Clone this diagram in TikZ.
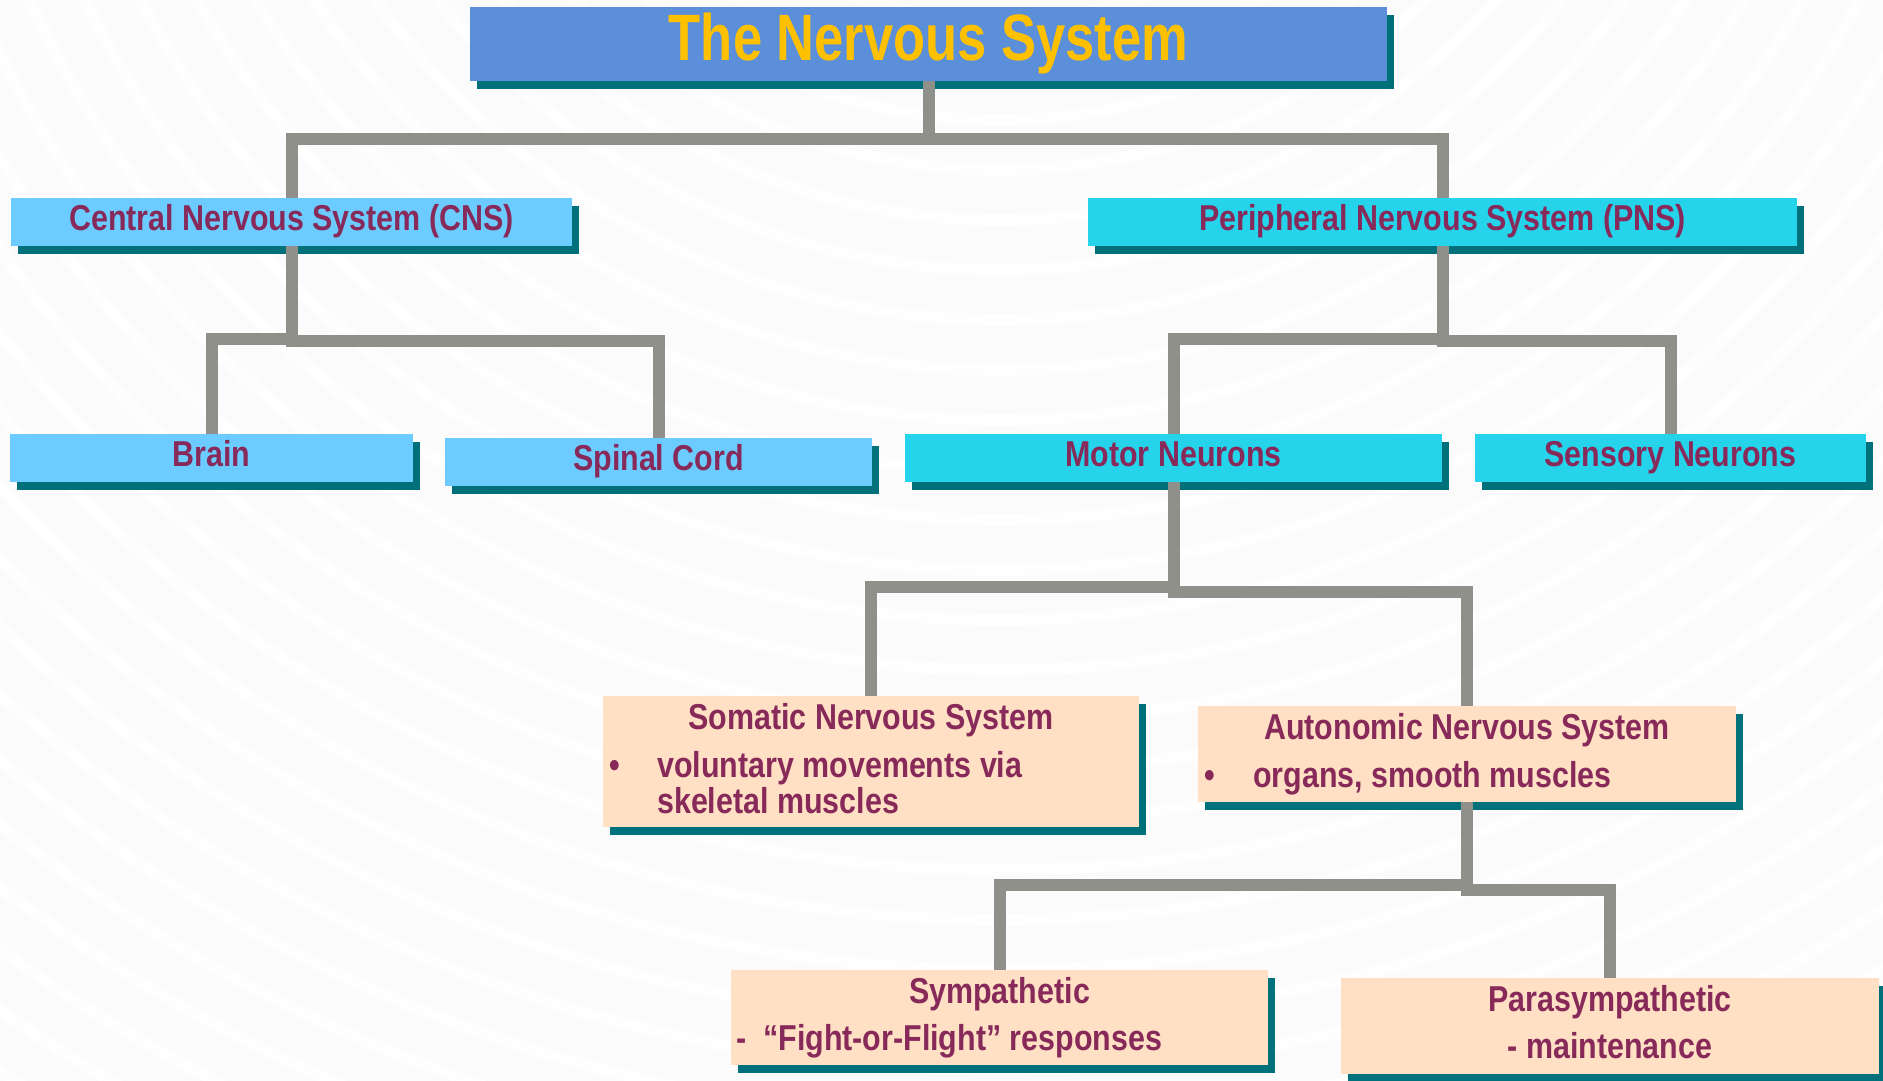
\documentclass[tikz,border=0pt]{standalone}
\usepackage{fontspec}
\usetikzlibrary{shadows,calc}
\newfontfamily\labfont{Liberation Sans}[FakeStretch=0.845]
\newfontfamily\ttlfont{Liberation Sans}[FakeStretch=0.80]
\definecolor{bgc}{RGB}{251,251,251}
\definecolor{ringc}{RGB}{254,254,254}
\definecolor{titleblue}{RGB}{91,143,217}
\definecolor{gold}{RGB}{255,192,0}
\definecolor{shd}{RGB}{0,112,122}
\definecolor{lblue}{RGB}{108,203,255}
\definecolor{cyanbox}{RGB}{37,211,234}
\definecolor{peach}{RGB}{255,224,196}
\definecolor{txt}{RGB}{135,42,90}
\definecolor{conngray}{RGB}{143,144,138}
\begin{document}
\begin{tikzpicture}[x=1pt,y=-1pt,
  bx/.style={anchor=north west, inner sep=0pt, outer sep=0pt, draw=none,
    drop shadow={shadow xshift=7pt, shadow yshift=-8pt, fill=shd, opacity=1}},
  lab/.style={text=txt, font={\labfont\bfseries\fontsize{36}{36}\selectfont}, inner sep=0pt},
  ttl/.style={text=gold, font={\ttlfont\bfseries\fontsize{65.6}{66}\selectfont}, inner sep=0pt},
  conn/.style={draw=conngray, line width=12pt, line join=miter},
]
\useasboundingbox (0,0) rectangle (1883,1081);
\fill[bgc] (0,0) rectangle (1883,1081);
\begin{scope}
  \clip (0,0) rectangle (1883,1081);
  \foreach \r in {420,470,...,2100} {
    \draw[ringc, line width=12pt] (1000,-450) circle[radius=\r];
  }
\end{scope}

% boxes
\node[bx, fill=titleblue, minimum width=917pt, minimum height=74pt] (title) at (470,7) {};
\node[bx, fill=lblue, minimum width=561pt, minimum height=48pt] (cns) at (11,198) {};
\node[bx, fill=cyanbox, minimum width=709pt, minimum height=48pt] (pns) at (1088,198) {};
\node[bx, fill=lblue, minimum width=403pt, minimum height=48pt] (brain) at (10,434) {};
\node[bx, fill=lblue, minimum width=427pt, minimum height=48pt] (spinal) at (445,438) {};
\node[bx, fill=cyanbox, minimum width=537pt, minimum height=48pt] (motor) at (905,434) {};
\node[bx, fill=cyanbox, minimum width=391pt, minimum height=48pt] (sensory) at (1475,434) {};
\node[bx, fill=peach, minimum width=536pt, minimum height=131pt] (som) at (603,696) {};
\node[bx, fill=peach, minimum width=538pt, minimum height=96pt] (aut) at (1198,706) {};
\node[bx, fill=peach, minimum width=537pt, minimum height=95pt] (sym) at (731,970) {};
\node[bx, fill=peach, minimum width=538pt, minimum height=96pt] (para) at (1341,978) {};

% texts
\node[ttl, anchor=base] (titleT) at ($(title.north)+(0,54)$) {The Nervous System};
\node[lab, anchor=base] (cnsT) at ($(cns.north)+(0,32.5)$) {Central Nervous System (CNS)};
\node[lab, anchor=base] (pnsT) at ($(pns.north)+(0,32.5)$) {Peripheral Nervous System (PNS)};
\node[lab, anchor=base] (brainT) at ($(brain.north)+(0,32.5)$) {Brain};
\node[lab, anchor=base] (spinalT) at ($(spinal.north)+(0,32.5)$) {Spinal Cord};
\node[lab, anchor=base] (motorT) at ($(motor.north)+(0,32.5)$) {Motor Neurons};
\node[lab, anchor=base] (sensoryT) at ($(sensory.north)+(0,32.5)$) {Sensory Neurons};

\node[lab, anchor=base] (somT) at ($(som.north)+(0,33)$) {Somatic Nervous System};
\node[lab, anchor=base] (somB) at ($(som.north west)+(12,81)$) {•};
\node[lab, anchor=base west] (som1) at ($(som.north west)+(54,81)$) {voluntary movements via};
\node[lab, anchor=base west] (som2) at ($(som.north west)+(54,117)$) {skeletal muscles};

\node[lab, anchor=base] (autT) at ($(aut.north)+(0,33)$) {Autonomic Nervous System};
\node[lab, anchor=base] (autB) at ($(aut.north west)+(12,81)$) {•};
\node[lab, anchor=base west] (aut1) at ($(aut.north west)+(55,81)$) {organs, smooth muscles};

\node[lab, anchor=base] (symT) at ($(sym.north)+(0,33)$) {Sympathetic};
\node[lab, anchor=base west] (sym1) at ($(sym.north west)+(5,80)$) {-\ \ “Fight-or-Flight” responses};

\node[lab, anchor=base] (paraT) at ($(para.north)+(0,33)$) {Parasympathetic};
\node[lab, anchor=base] (para1) at ($(para.north)+(0,80)$) {- maintenance};

% connectors
\draw[conn] (title.south) -- ++(0,58) -| (cns.north);
\draw[conn] (title.south) -- ++(0,58) -| (pns.north);
\draw[conn] (cns.south) -- ++(0,93) -| (brain.north);
\draw[conn] (cns.south) -- ++(0,95) -| (spinal.north);
\draw[conn] (pns.south) -- ++(0,93) -| (motor.north);
\draw[conn] (pns.south) -- ++(0,95) -| (sensory.north);
\draw[conn] (motor.south) -- ++(0,105) -| (som.north);
\draw[conn] (motor.south) -- ++(0,110) -| (aut.north);
\draw[conn] (aut.south) -- ++(0,83) -| (sym.north);
\draw[conn] (aut.south) -- ++(0,88) -| (para.north);
\end{tikzpicture}
\end{document}
